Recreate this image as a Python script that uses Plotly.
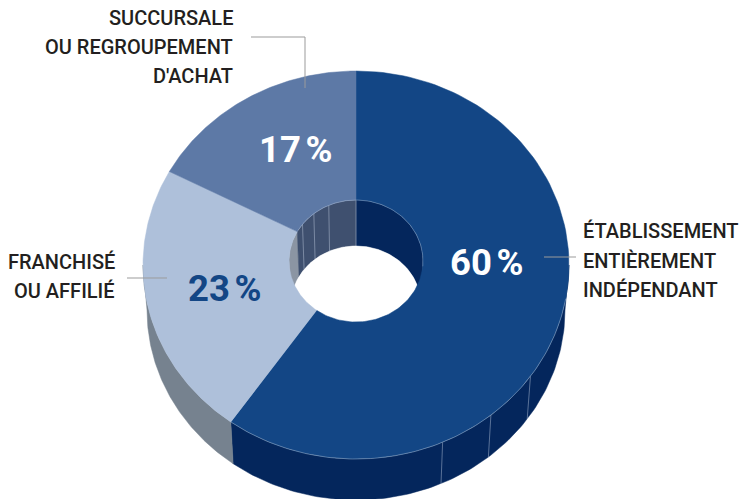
import numpy as np
import plotly.graph_objects as go

# Data
categories = ["Établissement entièrement indépendant", "Franchisé ou affilié", "Succursale ou regroupement d'achat"]
shares = [60, 23, 17]
share_labels = ["60\u202f%", "23\u202f%", "17\u202f%"]
label_lines = [["ÉTABLISSEMENT", "ENTIÈREMENT", "INDÉPENDANT"], ["FRANCHISÉ", "OU AFFILIÉ"], ["SUCCURSALE", "OU REGROUPEMENT", "D'ACHAT"]]

# Style
top_colors = ["#134685", "#AEC0DA", "#5D79A6"]
side_colors = ["#04265C", "#76828F", "#3F506F"]
inner_colors = ["#04265C", "#8B95A3", "#3F506F"]
seam_color = "rgba(200,212,230,0.55)"
leader_color = "#9B9B9B"
text_color = "#231F20"

# Projection of the ring in page pixels
CX = 356
OUT_TOP = dict(cy=265, rx=213, ry=194)
OUT_BOT = dict(cy=310, rx=209, ry=190)
IN_TOP = dict(cy=261, rx=67, ry=61)
IN_BOT = dict(cy=305, rx=65, ry=59)

outer_seams = [125, 140.7, 156]
inner_seams = [0, 336, 321, 307]


def pt(e, a):
    a = np.radians(np.asarray(a, dtype=float))
    return CX + e["rx"] * np.sin(a), e["cy"] - e["ry"] * np.cos(a)


def arc(e, a0, a1, n=120):
    return pt(e, np.linspace(a0, a1, n))


def band(e0, a0, a1, e1, b0, b1):
    x0, y0 = arc(e0, a0, a1)
    x1, y1 = arc(e1, b1, b0)
    return np.r_[x0, x1, x0[0]], np.r_[y0, y1, y0[0]]


fig = go.Figure()


def poly(x, y, color):
    fig.add_trace(go.Scatter(x=x, y=y, mode="lines", fill="toself", fillcolor=color,
                             line=dict(width=0.5, color=color), hoverinfo="skip", showlegend=False))


def line(x, y, color, width=1):
    fig.add_trace(go.Scatter(x=x, y=y, mode="lines", line=dict(width=width, color=color),
                             hoverinfo="skip", showlegend=False))


edges = np.r_[0, np.cumsum(shares)] / sum(shares) * 360

# Outer wall (front half only)
for i in range(len(shares)):
    a0, a1 = max(edges[i], 90), min(edges[i + 1], 270)
    if a0 < a1:
        x, y = band(OUT_TOP, a0, a1, OUT_BOT, a0, a1)
        poly(x, y, side_colors[i])
for a in outer_seams:
    xa, ya = pt(OUT_TOP, a)
    xb, yb = pt(OUT_BOT, a)
    line([xa, xb], [ya, yb], seam_color, 0.8)

# Inner wall (back half only)
for i in range(len(shares)):
    for lo, hi in ((0, 95), (262, 360)):
        a0, a1 = max(edges[i], lo), min(edges[i + 1], hi)
        if a0 < a1:
            x, y = band(IN_TOP, a0, a1, IN_BOT, a0, a1)
            poly(x, y, inner_colors[i])
for a in inner_seams:
    xa, ya = pt(IN_TOP, a)
    xb, yb = pt(IN_BOT, a)
    line([xa, xb], [ya, yb], seam_color, 0.8)

# See-through part of the hole
x, y = arc(IN_BOT, 0, 360, 240)
poly(x, y, "#FFFFFF")

# Top faces
for i in range(len(shares)):
    x, y = band(OUT_TOP, edges[i], edges[i + 1], IN_TOP, edges[i], edges[i + 1])
    poly(x, y, top_colors[i])

# Pale rim on the dark slice
x, y = arc(OUT_TOP, 100, edges[1])
line(x, y, seam_color, 0.7)
x, y = arc(IN_TOP, 300, 360 + 95)
line(x, y, seam_color, 0.6)

# Leaders
line([544, 576], [257, 257], leader_color)
line([127, 167], [278, 278], leader_color)
line([251, 305, 305], [37, 37, 88], leader_color)

ann = []


def note(x, y, text, anchor, size, color, weight):
    ann.append(dict(x=x, y=y, xref="x", yref="y", text=text, showarrow=False, xanchor=anchor, yanchor="middle",
                    font=dict(family="Roboto", size=size, color=color, weight=weight)))


label_anchor = [(581, "left", [231, 261, 290]), (117, "right", [262, 291]), (235, "right", [18, 47, 76])]
for lines, (lx, anc, ys) in zip(label_lines, label_anchor):
    for t, ly in zip(lines, ys):
        note(lx, ly, t, anc, 20, text_color, 500)

pct_pos = [(486, 262), (224, 288), (295, 149)]
pct_col = ["#FFFFFF", "#134685", "#FFFFFF"]
for t, (px, py), c in zip(share_labels, pct_pos, pct_col):
    note(px, py, t, "center", 36.5, c, 700)

fig.update_layout(
    width=741, height=499, margin=dict(l=0, r=0, t=0, b=0), paper_bgcolor="white", plot_bgcolor="white",
    xaxis=dict(range=[0, 741], visible=False, fixedrange=True),
    yaxis=dict(range=[499, 0], visible=False, fixedrange=True),
    annotations=ann, showlegend=False,
)
fig.write_html("out.html", config=dict(displayModeBar=False),
               post_script="document.body.style.margin='0';document.documentElement.style.overflow='hidden';")
